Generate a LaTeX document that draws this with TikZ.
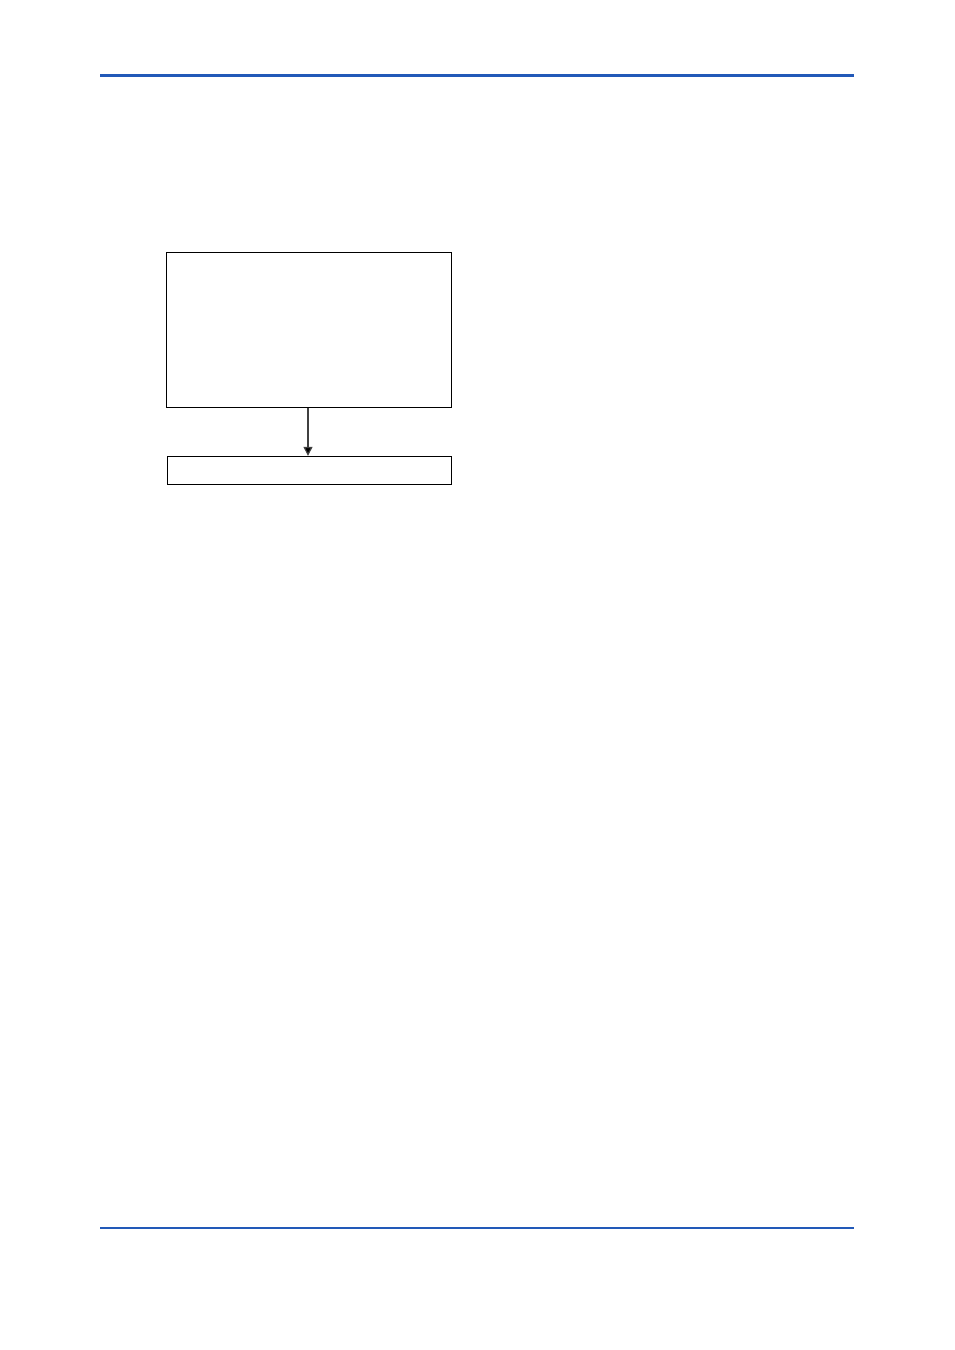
\documentclass[tikz,border=0pt]{standalone}
\usetikzlibrary{arrows.meta}
\definecolor{rule}{HTML}{2259B8}
\tikzset{
  box/.style={draw=black, line width=1pt, inner sep=0pt, anchor=north west},
  rulebar/.style={draw=rule},
  flow/.style={draw=black!75, line width=1.2pt, -{Triangle[length=9pt 0 0,width=9pt 0 0,fill=black]}}
}
\begin{document}
\begin{tikzpicture}[x=1pt,y=-1pt]
  \useasboundingbox (0,0) rectangle (954,1350);
  \coordinate (tl) at (100,75.5);
  \coordinate (tr) at (854,75.5);
  \draw[rulebar, line width=3pt] (tl) -- (tr);
  \coordinate (bl) at (100,1228);
  \coordinate (br) at (854,1228);
  \draw[rulebar, line width=2pt] (bl) -- (br);
  \node[box, minimum width=285.5pt, minimum height=155pt] (upper) at (165.5,251.5) {};
  \node[box, minimum width=284.5pt, minimum height=28.5pt] (lower) at (166.5,455.8) {};
  \draw[flow] (upper.south -| 308,0) -- (lower.north -| 308,0);
\end{tikzpicture}
\end{document}
